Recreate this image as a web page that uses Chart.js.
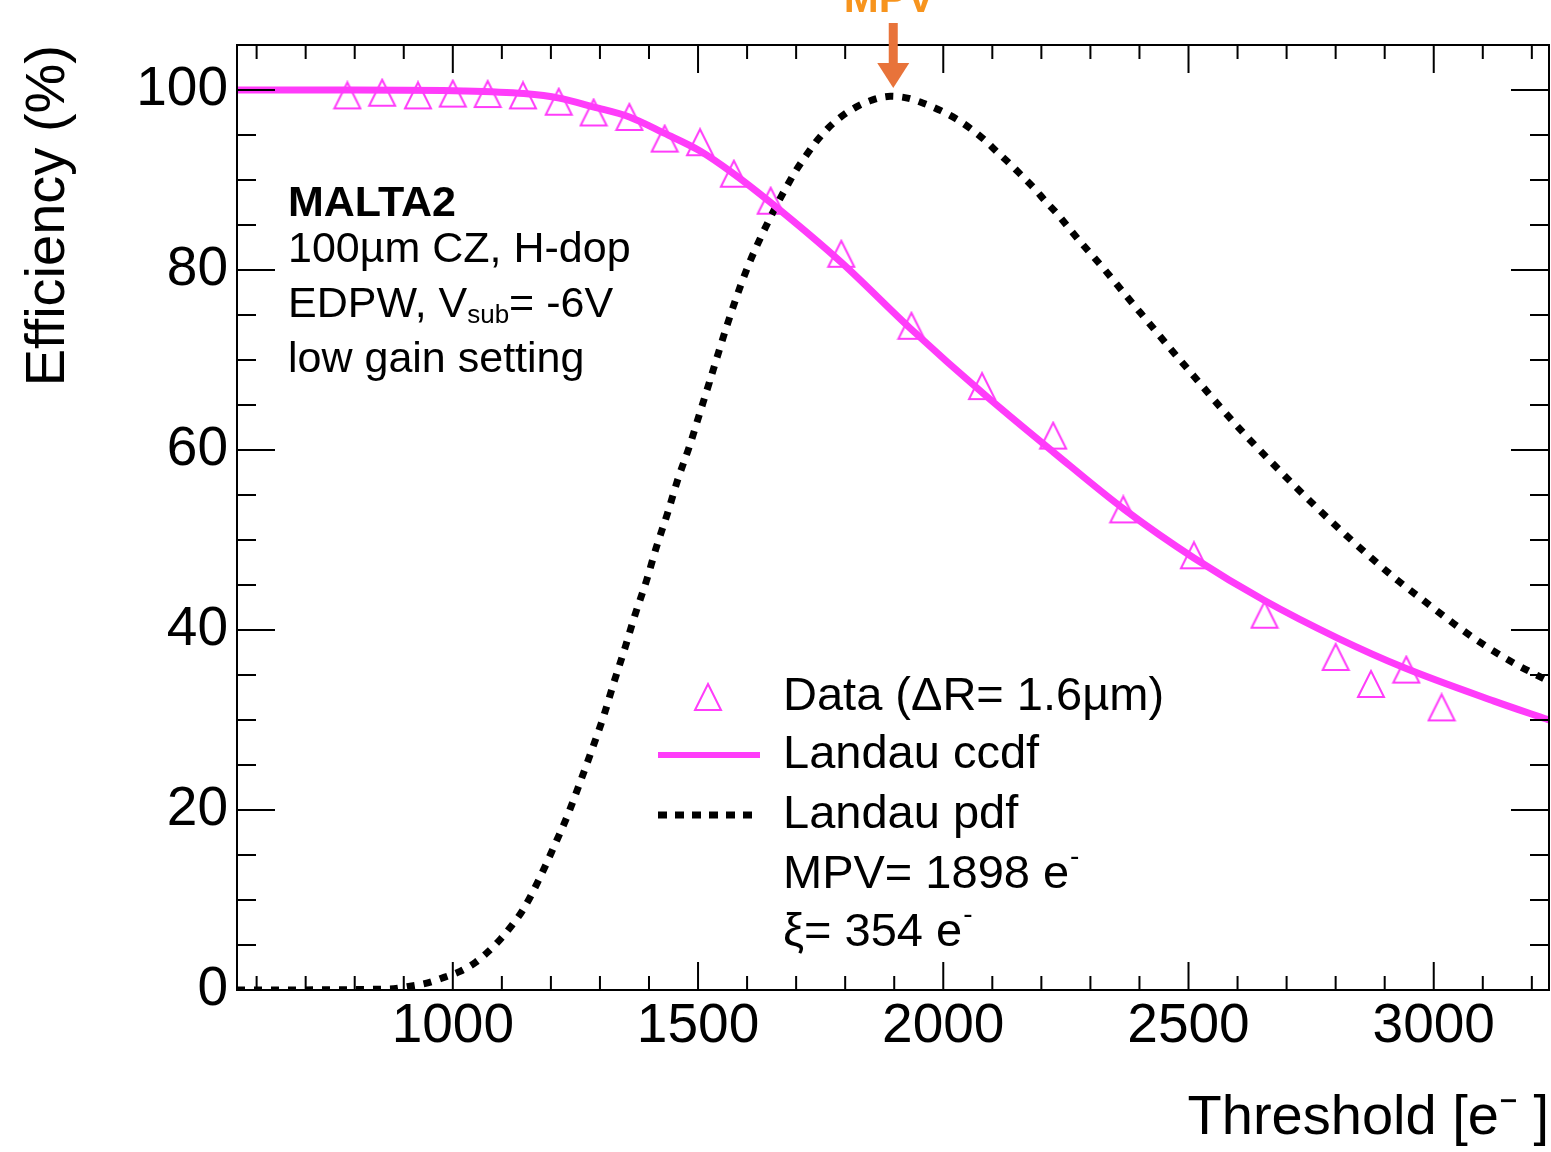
<!DOCTYPE html>
<html>
<head>
<meta charset="utf-8">
<script src="https://cdn.jsdelivr.net/npm/chart.js@4.4.1/dist/chart.umd.min.js"></script>
<style>
  html, body { margin: 0; padding: 0; background: #fff; overflow: hidden; }
  #wrap { width: 1551px; height: 1152px; }
  canvas { display: block; }
</style>
</head>
<body>
<div id="wrap"><canvas id="eff-chart" width="1551" height="1152"></canvas></div>
<script>
// measured points (threshold in e-, efficiency in %)
const dataThreshold = [785, 856, 929, 1000, 1071, 1143, 1216, 1287, 1360, 1432, 1504, 1573, 1648, 1792, 1935, 2079, 2224, 2367, 2511, 2655, 2800, 2872, 2944, 3016];
const dataEfficiency = [99.4, 99.7, 99.4, 99.6, 99.55, 99.4, 98.7, 97.5, 97.0, 94.6, 94.2, 90.7, 87.7, 81.8, 73.8, 67.1, 61.6, 53.4, 48.3, 41.7, 37.0, 34.0, 35.6, 31.4];

// Landau ccdf fit curve
const ccdfThreshold = [560, 800, 1022, 1145, 1217, 1288, 1360, 1431, 1505, 1570, 1648, 1791, 1933, 2083, 2226, 2369, 2511, 2654, 2804, 2940, 3123, 3235];
const ccdfValue = [100, 100, 99.9, 99.6, 99.1, 98.1, 97.0, 95.2, 93.2, 90.8, 87.5, 80.9, 73.5, 66.2, 59.7, 53.4, 48.0, 43.3, 39.1, 35.8, 32.1, 30.0];

// Landau pdf (scaled)
const pdfThreshold = [560, 870, 910, 949, 982, 1016, 1047, 1073, 1098, 1122, 1143, 1175, 1206, 1234, 1259, 1285, 1308, 1328, 1351, 1371, 1395, 1415, 1438, 1458, 1483, 1503, 1523, 1560, 1587, 1607, 1631, 1648, 1665, 1682, 1699, 1720, 1740, 1764, 1791, 1822, 1856, 1892, 1927, 1961, 1995, 2026, 2056, 2083, 2110, 2134, 2158, 2185, 2209, 2233, 2257, 2280, 2328, 2372, 2418, 2464, 2511, 2569, 2617, 2668, 2715, 2769, 2820, 2875, 2929, 2986, 3041, 3101, 3164, 3235];
const pdfValue = [0, 0.1, 0.4, 0.8, 1.4, 2.1, 3.1, 4.3, 5.7, 7.3, 8.9, 12.2, 15.9, 19.4, 23.0, 26.9, 30.5, 34.1, 38.0, 41.6, 45.5, 49.2, 53.0, 56.6, 60.5, 64.0, 67.5, 74.0, 78.3, 81.1, 84.0, 85.9, 87.7, 89.4, 91.0, 92.7, 94.2, 95.7, 97.0, 98.1, 98.9, 99.3, 99.1, 98.5, 97.7, 96.8, 95.7, 94.5, 93.1, 91.9, 90.6, 89.1, 87.6, 86.2, 84.6, 83.1, 80.1, 77.2, 74.2, 71.2, 68.2, 64.5, 61.6, 58.7, 56.1, 53.2, 50.6, 47.9, 45.4, 43.0, 40.7, 38.4, 36.3, 34.3];

const xTickValues = [1000, 1500, 2000, 2500, 3000];
const yTickValues = [0, 20, 40, 60, 80, 100];
const mpvValue = 1898;

const infoLines = ['MALTA2', '100µm CZ, H-dop', 'EDPW, V', 'low gain setting'];
const legendLabels = ['Data (ΔR= 1.6µm)', 'Landau ccdf', 'Landau pdf', 'MPV= 1898 e', 'ξ= 354 e'];

const PINK = '#ff3cfa';
const FONT = '"Liberation Sans", Arial, Helvetica, sans-serif';

function toPoints(xs, ys) {
    return xs.map((x, i) => ({ x: x, y: ys[i] }));
}

// open triangle marker, ROOT style (as tall as it is wide, centred on its box)
function makeTriangle() {
    const c = document.createElement('canvas');
    c.width = 30;
    c.height = 30;
    const g = c.getContext('2d');
    g.strokeStyle = PINK;
    g.lineWidth = 2;
    g.beginPath();
    g.moveTo(15, 2);
    g.lineTo(28, 28);
    g.lineTo(2, 28);
    g.closePath();
    g.stroke();
    return c;
}
const triangleMarker = makeTriangle();

// ROOT-like frame with inward ticks on all four sides
const frameTicks = {
    id: 'frameTicks',
    afterDatasetsDraw(chart) {
        const { ctx, chartArea: a, scales: { x, y } } = chart;
        ctx.save();
        ctx.strokeStyle = '#000';
        ctx.lineWidth = 2;
        ctx.strokeRect(a.left, a.top, a.right - a.left, a.bottom - a.top);
        ctx.beginPath();
        for (let v = 600; v <= 3200; v += 100) {
            const px = x.getPixelForValue(v);
            const len = v % 500 === 0 ? 28 : 14;
            ctx.moveTo(px, a.bottom); ctx.lineTo(px, a.bottom - len);
            ctx.moveTo(px, a.top); ctx.lineTo(px, a.top + len);
        }
        for (let v = 5; v <= 100; v += 5) {
            const py = y.getPixelForValue(v);
            const len = v % 20 === 0 ? 38 : 19;
            ctx.moveTo(a.left, py); ctx.lineTo(a.left + len, py);
            ctx.moveTo(a.right, py); ctx.lineTo(a.right - len, py);
        }
        ctx.stroke();
        ctx.restore();
    }
};

// text block, legend and MPV arrow
const annotations = {
    id: 'annotations',
    afterDraw(chart) {
        const { ctx, scales: { x } } = chart;
        ctx.save();
        ctx.fillStyle = '#000';
        ctx.textBaseline = 'alphabetic';
        ctx.textAlign = 'left';

        ctx.font = 'bold 43px ' + FONT;
        ctx.fillText(infoLines[0], 288, 216);
        ctx.font = '43px ' + FONT;
        ctx.fillText(infoLines[1], 288, 262);
        ctx.fillText(infoLines[2], 288, 317);
        let cx = 288 + ctx.measureText(infoLines[2]).width;
        ctx.font = '26px ' + FONT;
        ctx.fillText('sub', cx, 323);
        cx += ctx.measureText('sub').width;
        ctx.font = '43px ' + FONT;
        ctx.fillText('= -6V', cx, 317);
        ctx.fillText(infoLines[3], 288, 372);

        // legend
        const rows = [697, 755, 815, 875, 933];
        ctx.drawImage(triangleMarker, 708 - 15, rows[0] - 15);

        ctx.strokeStyle = PINK;
        ctx.lineWidth = 6;
        ctx.beginPath();
        ctx.moveTo(658, rows[1]); ctx.lineTo(760, rows[1]);
        ctx.stroke();

        ctx.strokeStyle = '#000';
        ctx.lineWidth = 7;
        ctx.setLineDash([9, 8]);
        ctx.beginPath();
        ctx.moveTo(658, rows[2]); ctx.lineTo(755, rows[2]);
        ctx.stroke();
        ctx.setLineDash([]);

        ctx.font = '47px ' + FONT;
        ctx.textBaseline = 'middle';
        legendLabels.forEach((t, i) => {
            ctx.fillText(t, 783, rows[i]);
            if (i >= 3) {
                const w = ctx.measureText(t).width;
                ctx.font = '28px ' + FONT;
                ctx.fillText('-', 783 + w + 1, rows[i] - 18);
                ctx.font = '47px ' + FONT;
            }
        });

        // MPV arrow
        const ax = x.getPixelForValue(mpvValue);
        ctx.fillStyle = '#e8733a';
        ctx.fillRect(ax - 4.5, 23, 9, 42);
        ctx.beginPath();
        ctx.moveTo(ax - 16, 63);
        ctx.lineTo(ax + 16, 63);
        ctx.lineTo(ax, 88);
        ctx.closePath();
        ctx.fill();

        ctx.fillStyle = '#f7941d';
        ctx.font = 'bold 42px ' + FONT;
        ctx.textAlign = 'center';
        ctx.textBaseline = 'alphabetic';
        ctx.fillText('MPV', ax - 4, 12);
        ctx.restore();
    }
};

const ctx = document.getElementById('eff-chart').getContext('2d');
const effChart = new Chart(ctx, {
    type: 'scatter',
    data: {
        datasets: [{
            label: 'Data',
            data: toPoints(dataThreshold, dataEfficiency),
            pointStyle: triangleMarker,
            pointRadius: 15,
            borderColor: PINK,
            backgroundColor: 'rgba(0,0,0,0)',
            showLine: false,
            order: 3
        }, {
            label: 'Landau pdf',
            data: toPoints(pdfThreshold, pdfValue),
            showLine: true,
            borderColor: '#000',
            borderWidth: 7,
            borderDash: [8, 9],
            borderCapStyle: 'butt',
            pointRadius: 0,
            cubicInterpolationMode: 'monotone',
            order: 2
        }, {
            label: 'Landau ccdf',
            data: toPoints(ccdfThreshold, ccdfValue),
            showLine: true,
            borderColor: PINK,
            borderWidth: 7,
            pointRadius: 0,
            cubicInterpolationMode: 'monotone',
            order: 1
        }]
    },
    options: {
        responsive: false,
        animation: false,
        devicePixelRatio: 1,
        // autoPadding would reserve room on the right for the marker radius
        layout: { autoPadding: false, padding: { top: 45, right: 2, bottom: 0, left: 0 } },
        plugins: {
            legend: { display: false },
            tooltip: { enabled: false }
        },
        scales: {
            x: {
                type: 'linear',
                min: 560,
                max: 3235,
                grid: { display: false, drawTicks: false },
                border: { display: false },
                afterBuildTicks: scale => { scale.ticks = xTickValues.map(v => ({ value: v })); },
                afterFit: scale => {
                    scale.height = 162;
                    scale.paddingLeft = 0;
                    scale.paddingRight = 0;
                },
                ticks: {
                    color: '#000',
                    font: { family: FONT, size: 55 },
                    padding: 4,
                    maxRotation: 0,
                    autoSkip: false,
                    callback: v => String(v)
                },
                title: {
                    display: true,
                    text: 'Threshold [e⁻ ]',
                    align: 'end',
                    color: '#000',
                    font: { family: FONT, size: 56 },
                    padding: { top: 0, bottom: 0 }
                }
            },
            y: {
                type: 'linear',
                min: 0,
                max: 105,
                grid: { display: false, drawTicks: false },
                border: { display: false },
                afterBuildTicks: scale => { scale.ticks = yTickValues.map(v => ({ value: v })); },
                afterFit: scale => {
                    scale.width = 237;
                    scale.paddingTop = 0;
                    scale.paddingBottom = 0;
                },
                ticks: {
                    color: '#000',
                    font: { family: FONT, size: 55 },
                    padding: 9,
                    callback: v => String(v)
                },
                title: {
                    display: true,
                    text: 'Efficiency (%)',
                    align: 'end',
                    color: '#000',
                    font: { family: FONT, size: 56 },
                    padding: { top: 15, bottom: 0 }
                }
            }
        }
    },
    plugins: [frameTicks, annotations]
});
</script>
</body>
</html>
